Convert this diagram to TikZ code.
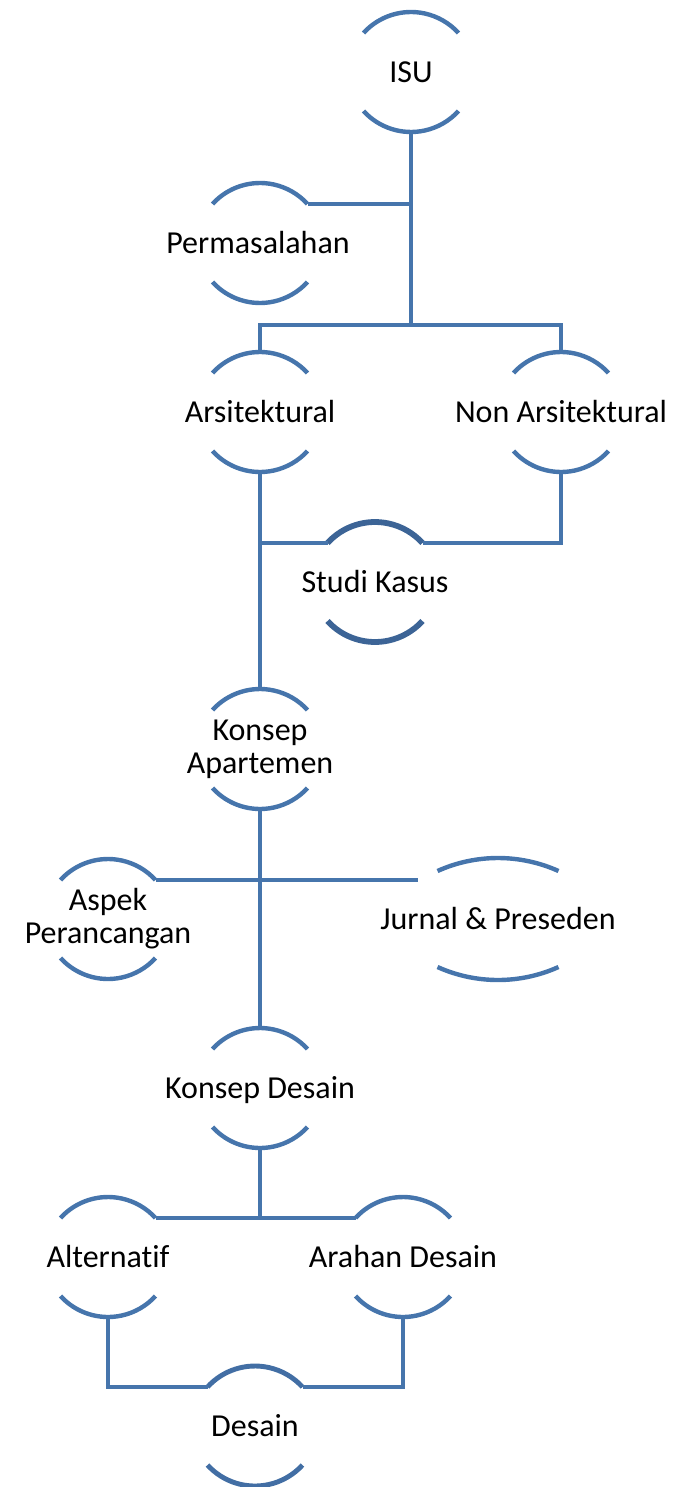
\documentclass[tikz,border=0pt]{standalone}
\usepackage{fontspec}
\setmainfont{Carlito}[Ligatures=NoCommon]
\usetikzlibrary{calc}
\definecolor{lineblue}{RGB}{70,117,172}
\definecolor{darkblue}{RGB}{60,100,150}
\definecolor{midblue}{RGB}{66,110,164}
\begin{document}
\begin{tikzpicture}[x=1pt,y=-1pt,
  conn/.style={draw=lineblue, line width=4.4pt},
  arcst/.style={draw=lineblue, line width=4.4pt},
  arcdark/.style={draw=darkblue, line width=5.8pt},
  arcmid/.style={draw=midblue, line width=4.9pt},
  bub/.style={minimum width=95pt, minimum height=120pt, inner sep=0pt, outer sep=0pt},
  bubwide/.style={minimum width=121pt, minimum height=122pt, inner sep=0pt, outer sep=0pt},
  txt/.style={font=\fontsize{32}{33}\selectfont, inner sep=0pt, text height=21pt, text depth=0pt, text=black},
  txttwo/.style={font=\fontsize{32}{33}\selectfont, inner sep=0pt, align=center, text=black}]
\useasboundingbox (0,0) rectangle (672,1487);
% shapes (invisible frames of the arc pairs)
\node[bub] (isu) at (411,72) {};
\node[bub] (perm) at (260,243) {};
\node[bub] (arsi) at (260,412) {};
\node[bub] (nonars) at (561,412) {};
\node[bub] (stud) at (375,582) {};
\node[bub] (konsep) at (260,749) {};
\node[bub] (aspek) at (108,919) {};
\node[bubwide] (jurnal) at (498,919) {};
\node[bub] (kdesain) at (260,1088) {};
\node[bub] (alt) at (108,1257) {};
\node[bub] (arah) at (403,1257) {};
\node[bub] (desain) at (255,1426) {};
% texts
\node[txt] (isu-t) at (isu) {ISU};
\node[txt] (perm-t) at (258,243) {Permasalahan};
\node[txt] (arsi-t) at (arsi) {Arsitektural};
\node[txt] (nonars-t) at (nonars) {Non Arsitektural};
\node[txt] (stud-t) at (stud) {Studi Kasus};
\node[txttwo] (konsep-t) at (konsep) {Konsep\\Apartemen};
\node[txttwo] (aspek-t) at (aspek) {Aspek\\Perancangan};
\node[txt] (jurnal-t) at (jurnal) {Jurnal \& Preseden};
\node[txt] (kdesain-t) at (kdesain) {Konsep Desain};
\node[txt] (alt-t) at (alt) {Alternatif};
\node[txt] (arah-t) at (arah) {Arahan Desain};
\node[txt] (desain-t) at (desain) {Desain};
% arcs
\foreach \n in {isu,perm,arsi,nonars,konsep,aspek,kdesain,alt,arah} {
  \draw[arcst] ($(\n.north west)+(0,21)$) arc[start angle=222.3, end angle=317.7, radius=64.22];
  \draw[arcst] ($(\n.south west)+(0,-21)$) arc[start angle=137.7, end angle=42.3, radius=64.22];
}
\draw[arcdark] ($(stud.north west)+(0,21)$) arc[start angle=222.3, end angle=317.7, radius=64.22];
\draw[arcdark] ($(stud.south west)+(0,-21)$) arc[start angle=137.7, end angle=42.3, radius=64.22];
\draw[arcmid] ($(desain.north west)+(0,21)$) arc[start angle=222.3, end angle=317.7, radius=64.22];
\draw[arcmid] ($(desain.south west)+(0,-21)$) arc[start angle=137.7, end angle=42.3, radius=64.22];
\draw[arcst] ($(jurnal.north west)+(0,13)$) arc[start angle=245.75, end angle=294.25, radius=147.3];
\draw[arcst] ($(jurnal.south west)+(0,-13)$) arc[start angle=114.25, end angle=65.75, radius=147.3];
% arc end points used by connectors
\coordinate (perm-r) at ($(perm.north east)+(0,21)$);
\coordinate (stud-l) at ($(stud.north west)+(0,21)$);
\coordinate (stud-r) at ($(stud.north east)+(0,21)$);
\coordinate (aspek-r) at ($(aspek.north east)+(0,21)$);
\coordinate (alt-r) at ($(alt.north east)+(0,21)$);
\coordinate (arah-l) at ($(arah.north west)+(0,21)$);
\coordinate (des-l) at ($(desain.north west)+(0,21)$);
\coordinate (des-r) at ($(desain.north east)+(0,21)$);
\coordinate (j1) at ($(isu.south)+(0,193)$);
% connectors
\draw[conn] (isu.south) -- (j1);
\draw[conn] (perm-r) -- (perm-r -| isu.south);
\draw[conn] (arsi.north) |- (j1) -| (nonars.north);
\draw[conn] (arsi.south) -- (konsep.north);
\draw[conn] (stud-l) -- (stud-l -| arsi.south);
\draw[conn] (stud-r) -| (nonars.south);
\draw[conn] (konsep.south) -- (kdesain.north);
\draw[conn, shorten >=20pt] (aspek-r) -- (aspek-r -| jurnal.west);
\draw[conn] (alt-r) -- (arah-l);
\draw[conn] (kdesain.south) -- (kdesain.south |- alt-r);
\draw[conn] (alt.south) |- (des-l);
\draw[conn] (des-r) -| (arah.south);
\end{tikzpicture}
\end{document}
